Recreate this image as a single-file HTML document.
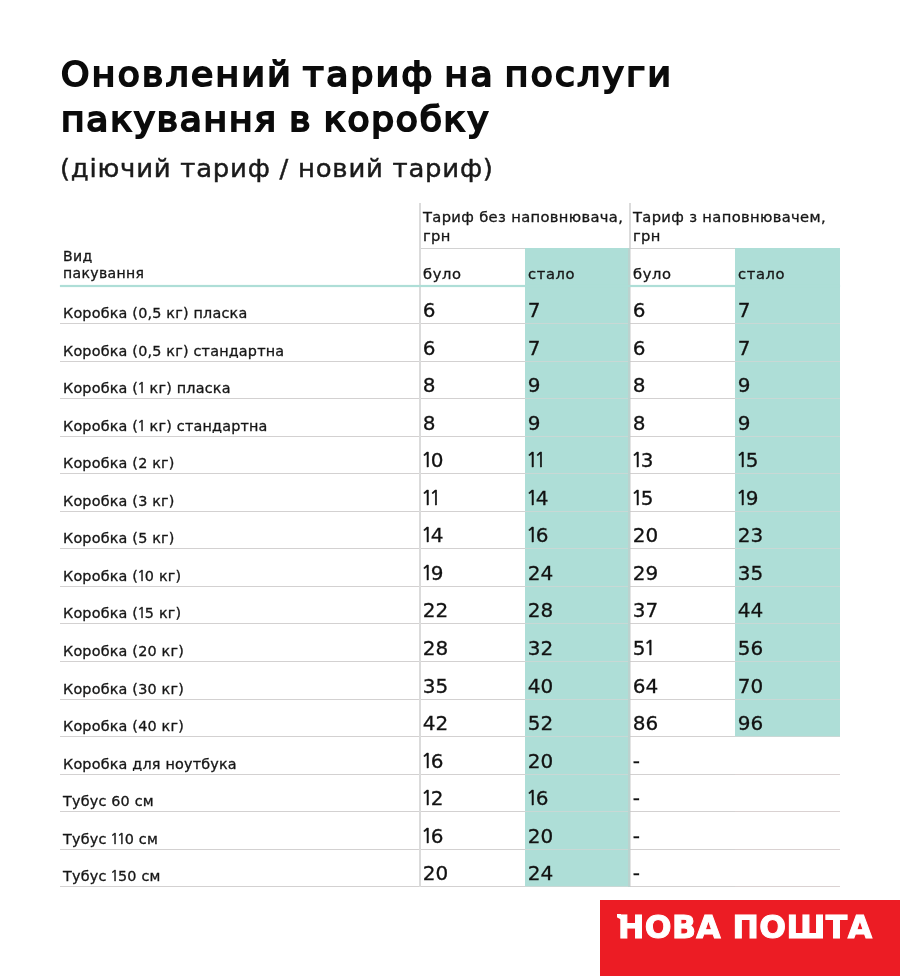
<!DOCTYPE html>
<html lang="uk">
<head>
<meta charset="utf-8">
<title>Оновлений тариф на послуги пакування в коробку</title>
<style>
*{box-sizing:border-box;margin:0;padding:0}
html,body{width:900px;height:976px;background:#fff;overflow:hidden}
body{position:relative;font-family:"DejaVu Sans", "Liberation Sans", sans-serif;color:#161616}
h1{position:absolute;left:61px;top:53px;font-size:33px;line-height:44.8px;font-weight:normal;-webkit-text-stroke:2px #0b0b0b;letter-spacing:1.65px;transform:scaleX(1.09);transform-origin:0 0;color:#0b0b0b;white-space:nowrap}
.t1{letter-spacing:2.2px;word-spacing:-3.7px}
.t2{word-spacing:-1.5px}
.sub{position:absolute;left:60px;top:151px;font-size:24px;line-height:36px;letter-spacing:.7px;white-space:nowrap;color:#1a1a1a;-webkit-text-stroke:.45px #1a1a1a;transform:scaleX(1.08);transform-origin:0 0}
.teal{position:absolute;z-index:1;background:#aeded7}
.vline{position:absolute;z-index:2;width:2px;background:#dbdbdb;top:203px;height:684px}
.v2{width:3px;background:rgba(200,200,200,.5)}
.hline{position:absolute;height:1px;background:#d2d2d2}
.tline{position:absolute;z-index:2;height:2px;background:#aeded7;box-shadow:0 0 1px rgba(174,222,215,.9);left:60px;width:780px;top:285px}
.hd,.sm,.row span{position:absolute;z-index:3;white-space:nowrap;transform:scaleX(1.05);transform-origin:0 0;-webkit-text-stroke:.3px #161616}
.hd{font-size:14px;line-height:18.7px;letter-spacing:.33px}
.sm{font-size:13.4px;line-height:17.8px;letter-spacing:.3px}
.w{font-size:14px;letter-spacing:.6px}
.row{position:absolute;left:60px;width:780px;height:38px;border-bottom:1px solid #d3d1d1}
.row::before,.row::after{content:"";position:absolute;z-index:2;bottom:-1px;height:1px;width:103px;background:rgba(224,212,212,.55)}
.row::before{left:465px}.row::after{left:675px;width:105px}
.row .l{left:3px;bottom:2.5px;font-size:13.7px;line-height:16px;letter-spacing:.18px}
.row .n{bottom:0.7px;font-size:20px;line-height:24px;letter-spacing:0;color:#111;transform:none}
.row .n i{font-style:normal;font-family:"NanumGothic","DejaVu Sans",sans-serif;font-size:20px;-webkit-text-stroke:.55px #111;margin:0 -2.3px 0 -1.7px}
.row .l i{font-style:normal;font-family:"NanumGothic","DejaVu Sans",sans-serif;-webkit-text-stroke:.45px #161616;margin:0 -1.2px 0 -.9px}
.c1{left:362.7px}.c2{left:467.7px}.c3{left:572.7px}.c4{left:677.7px}
.logo{position:absolute;left:600px;top:900px;width:300px;height:76px;background:#ec1c24}
.logo::before{content:"";position:absolute;left:16.8px;top:13.6px;width:4.2px;height:6px;background:#fff;clip-path:polygon(0 4%,100% 0,100% 100%,0 62%)}
.logo b{position:absolute;left:18px;top:7px;font-size:31.5px;line-height:40px;letter-spacing:.4px;-webkit-text-stroke:1px #fff;color:#fff;white-space:nowrap}
</style>
</head>
<body>
<h1><span class="t1">Оновлений тариф на послуги</span><br><span class="t2">пакування в коробку</span></h1>
<p class="sub">(діючий тариф / новий тариф)</p>
<div class="teal" style="left:525px;top:248px;width:105px;height:639px"></div>
<div class="teal" style="left:735px;top:248px;width:105px;height:489px"></div>
<div class="vline" style="left:419px"></div>
<div class="vline" style="left:629px;height:45px"></div>
<div class="vline v2" style="left:628px;top:248px;height:639px"></div>
<div class="hline" style="left:420px;width:420px;top:248px"></div>
<div class="tline"></div>
<div class="hd" style="left:423px;top:208px">Тариф без наповнювача,<br>грн</div>
<div class="hd" style="left:633px;top:208px">Тариф з наповнювачем,<br>грн</div>
<div class="sm" style="left:63px;top:247.7px">Вид<br>пакування</div>
<div class="sm w" style="left:423px;top:266.3px">було</div>
<div class="sm w" style="left:528px;top:266.3px">стало</div>
<div class="sm w" style="left:633px;top:266.3px">було</div>
<div class="sm w" style="left:738px;top:266.3px">стало</div>
<div class="row" style="top:286px"><span class="l">Коробка (0,5 кг) пласка</span><span class="n c1">6</span><span class="n c2">7</span><span class="n c3">6</span><span class="n c4">7</span></div>
<div class="row" style="top:324px"><span class="l">Коробка (0,5 кг) стандартна</span><span class="n c1">6</span><span class="n c2">7</span><span class="n c3">6</span><span class="n c4">7</span></div>
<div class="row" style="top:361px"><span class="l">Коробка (<i>1</i> кг) пласка</span><span class="n c1">8</span><span class="n c2">9</span><span class="n c3">8</span><span class="n c4">9</span></div>
<div class="row" style="top:399px"><span class="l">Коробка (<i>1</i> кг) стандартна</span><span class="n c1">8</span><span class="n c2">9</span><span class="n c3">8</span><span class="n c4">9</span></div>
<div class="row" style="top:436px"><span class="l">Коробка (2 кг)</span><span class="n c1"><i>1</i>0</span><span class="n c2"><i>1</i><i>1</i></span><span class="n c3"><i>1</i>3</span><span class="n c4"><i>1</i>5</span></div>
<div class="row" style="top:474px"><span class="l">Коробка (3 кг)</span><span class="n c1"><i>1</i><i>1</i></span><span class="n c2"><i>1</i>4</span><span class="n c3"><i>1</i>5</span><span class="n c4"><i>1</i>9</span></div>
<div class="row" style="top:511px"><span class="l">Коробка (5 кг)</span><span class="n c1"><i>1</i>4</span><span class="n c2"><i>1</i>6</span><span class="n c3">20</span><span class="n c4">23</span></div>
<div class="row" style="top:549px"><span class="l">Коробка (<i>1</i>0 кг)</span><span class="n c1"><i>1</i>9</span><span class="n c2">24</span><span class="n c3">29</span><span class="n c4">35</span></div>
<div class="row" style="top:586px"><span class="l">Коробка (<i>1</i>5 кг)</span><span class="n c1">22</span><span class="n c2">28</span><span class="n c3">37</span><span class="n c4">44</span></div>
<div class="row" style="top:624px"><span class="l">Коробка (20 кг)</span><span class="n c1">28</span><span class="n c2">32</span><span class="n c3">5<i>1</i></span><span class="n c4">56</span></div>
<div class="row" style="top:662px"><span class="l">Коробка (30 кг)</span><span class="n c1">35</span><span class="n c2">40</span><span class="n c3">64</span><span class="n c4">70</span></div>
<div class="row" style="top:699px"><span class="l">Коробка (40 кг)</span><span class="n c1">42</span><span class="n c2">52</span><span class="n c3">86</span><span class="n c4">96</span></div>
<div class="row" style="top:737px"><span class="l">Коробка для ноутбука</span><span class="n c1"><i>1</i>6</span><span class="n c2">20</span><span class="n c3">-</span></div>
<div class="row" style="top:774px"><span class="l">Тубус 60 см</span><span class="n c1"><i>1</i>2</span><span class="n c2"><i>1</i>6</span><span class="n c3">-</span></div>
<div class="row" style="top:812px"><span class="l">Тубус <i>1</i><i>1</i>0 см</span><span class="n c1"><i>1</i>6</span><span class="n c2">20</span><span class="n c3">-</span></div>
<div class="row" style="top:849px"><span class="l">Тубус <i>1</i>50 см</span><span class="n c1">20</span><span class="n c2">24</span><span class="n c3">-</span></div>
<div class="logo"><b>НОВА ПОШТА</b></div>
</body>
</html>
